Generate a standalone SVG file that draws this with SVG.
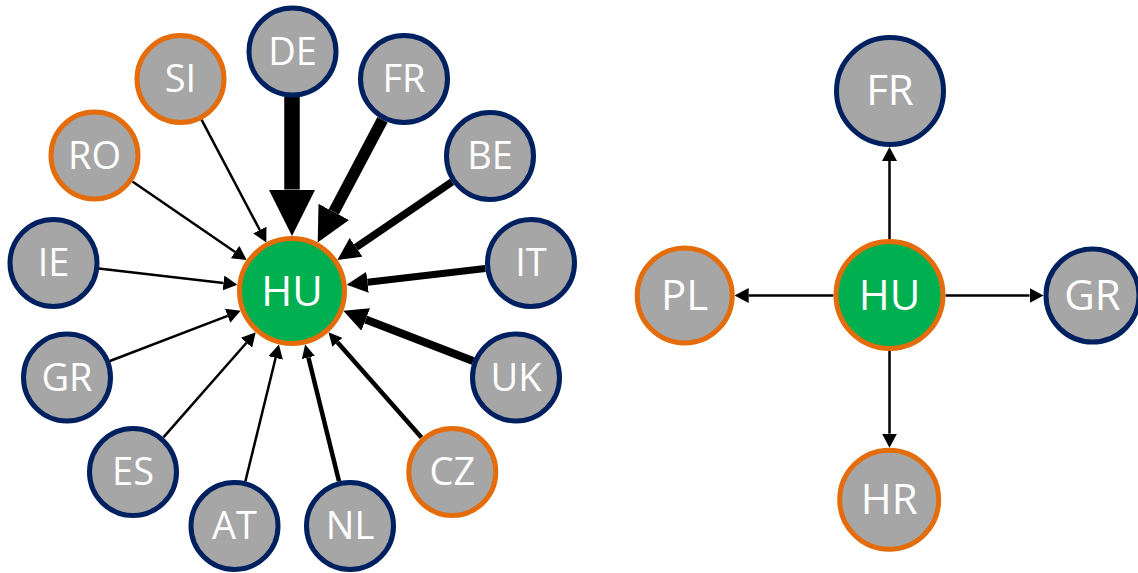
<svg xmlns="http://www.w3.org/2000/svg" width="1138" height="573" viewBox="0 0 1138 573">
<style>
.n{fill:#A6A6A6;stroke:#002060;stroke-width:5}
.o{fill:#A6A6A6;stroke:#E46C0A;stroke-width:5}
.h{fill:#00B050;stroke:#E46C0A;stroke-width:5}
.t{font-family:"Open Sans","Noto Sans",sans-serif;fill:#FFFFFF;text-anchor:middle;font-size:38px}
.tb{font-size:42px}
.e{stroke:#000000;fill:none}
.thin{stroke-width:2.5;marker-end:url(#ah)}
.thick{marker-end:url(#aw)}
</style>
<defs>
<marker id="ah" markerUnits="userSpaceOnUse" markerWidth="14" markerHeight="15" refX="0" refY="7.5" orient="auto">
<path d="M0,0 L14,7.5 L0,15 z" fill="#000000"/>
</marker>
<marker id="aw" markerUnits="strokeWidth" markerWidth="3" markerHeight="3" refX="0" refY="1.5" orient="auto">
<path d="M0,0 L3,1.5 L0,3 z" fill="#000000"/>
</marker>
</defs>
<g id="connectors">
<line class="e thick" x1="292" y1="97" x2="292" y2="189.5" stroke-width="15.5"/>
<line class="e thick" x1="382.5" y1="119.7" x2="333.8" y2="211.9" stroke-width="11.5"/>
<line class="e thick" x1="452" y1="181.9" x2="356" y2="247.3" stroke-width="7.5"/>
<line class="e thick" x1="485.3" y1="268.4" x2="367.5" y2="282.2" stroke-width="7"/>
<line class="e thick" x1="473.1" y1="360.9" x2="365.7" y2="319.5" stroke-width="8"/>
<line class="e thick" x1="421.5" y1="437.5" x2="337.4" y2="342.3" stroke-width="4.5"/>
<line class="e thick" x1="339" y1="481.3" x2="308.4" y2="357.5" stroke-width="4.5"/>
<line class="e thin" x1="245.4" y1="481.3" x2="275.6" y2="358"/>
<line class="e thin" x1="163.4" y1="437.4" x2="246.5" y2="342.8"/>
<line class="e thin" x1="109.9" y1="361" x2="227.6" y2="315.8"/>
<line class="e thin" x1="98.7" y1="268.4" x2="223.5" y2="283"/>
<line class="e thin" x1="132.4" y1="181.5" x2="235.1" y2="252"/>
<line class="e thin" x1="201.5" y1="119.7" x2="259.8" y2="230"/>
<line class="e thin" x1="889.5" y1="239" x2="889.5" y2="161"/>
<line class="e thin" x1="833.5" y1="295.5" x2="748.7" y2="295.5"/>
<line class="e thin" x1="945.5" y1="295.5" x2="1029.5" y2="295.5"/>
<line class="e thin" x1="889.5" y1="351" x2="889.5" y2="433.7"/>
</g>
<g id="HU_left"><circle class="h" cx="292" cy="291" r="52.5"/><text class="t tb" x="292" y="306">HU</text></g>
<g id="DE"><circle class="n" cx="292.5" cy="51.5" r="43.5"/><text class="t" x="292.5" y="64.5">DE</text></g>
<g id="FR_left"><circle class="n" cx="404" cy="79" r="43.5"/><text class="t" x="404" y="92">FR</text></g>
<g id="SI"><circle class="o" cx="180.5" cy="79" r="43.5"/><text class="t" x="180.5" y="92">SI</text></g>
<g id="RO"><circle class="o" cx="94.5" cy="155.5" r="43.5"/><text class="t" x="94.5" y="168.5">RO</text></g>
<g id="BE"><circle class="n" cx="490" cy="156" r="43.5"/><text class="t" x="490" y="169">BE</text></g>
<g id="IE"><circle class="n" cx="53.5" cy="263" r="43.5"/><text class="t" x="53.5" y="276">IE</text></g>
<g id="IT"><circle class="n" cx="531" cy="263" r="43.5"/><text class="t" x="531" y="276">IT</text></g>
<g id="GR_left"><circle class="n" cx="67" cy="377.5" r="43.5"/><text class="t" x="67" y="390.5">GR</text></g>
<g id="UK"><circle class="n" cx="516" cy="377.5" r="43.5"/><text class="t" x="516" y="390.5">UK</text></g>
<g id="ES"><circle class="n" cx="133" cy="472" r="43.5"/><text class="t" x="133" y="485">ES</text></g>
<g id="CZ"><circle class="o" cx="452.3" cy="472" r="43.5"/><text class="t" x="452.3" y="485">CZ</text></g>
<g id="AT"><circle class="n" cx="234.5" cy="526" r="43.5"/><text class="t" x="234.5" y="539">AT</text></g>
<g id="NL"><circle class="n" cx="350" cy="526" r="43.5"/><text class="t" x="350" y="539">NL</text></g>
<g id="HU_right"><circle class="h" cx="889.5" cy="295" r="53.5"/><text class="t tb" x="889.5" y="310">HU</text></g>
<g id="FR_right"><circle class="n" cx="890" cy="91" r="53.5"/><text class="t tb" x="890" y="105">FR</text></g>
<g id="PL"><circle class="o" cx="684.7" cy="295.5" r="47.5"/><text class="t tb" x="684.7" y="310">PL</text></g>
<g id="GR_right"><circle class="n" cx="1092.5" cy="295.5" r="46.5"/><text class="t tb" x="1092.5" y="310">GR</text></g>
<g id="HR"><circle class="o" cx="889.2" cy="499.7" r="49.5"/><text class="t tb" x="889.2" y="514">HR</text></g>
</svg>
